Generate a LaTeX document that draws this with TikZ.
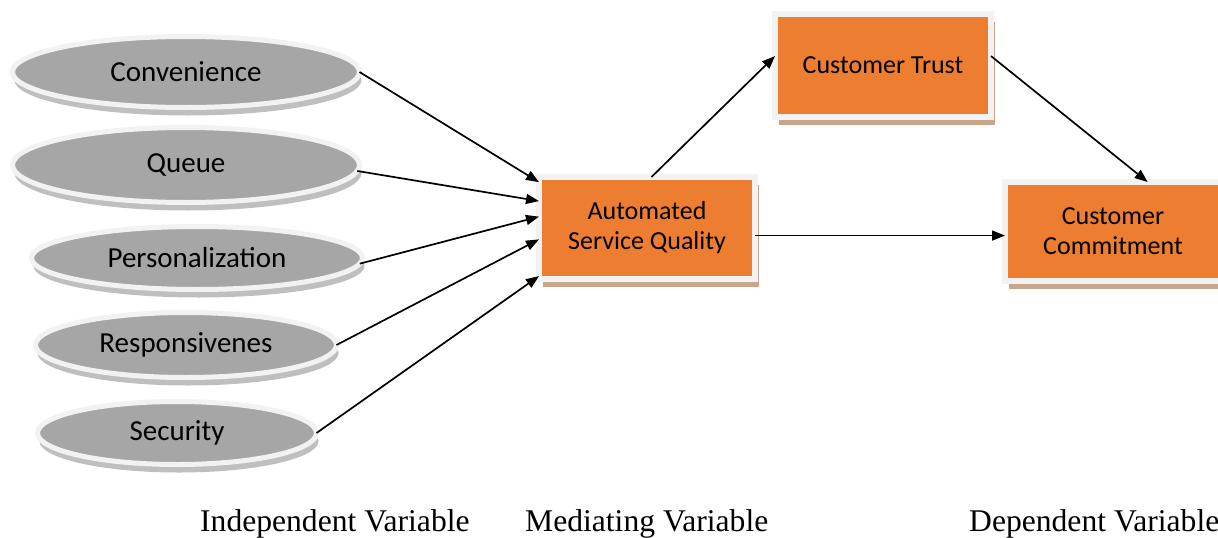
\documentclass[tikz,border=0pt]{standalone}
\usepackage{fontspec}
\setmainfont{Liberation Serif}
\newfontfamily\calfont{Carlito}
\usetikzlibrary{arrows.meta,shapes.geometric,shadows}
\definecolor{ellgray}{HTML}{A6A6A6}
\definecolor{ringc}{HTML}{F2F2F2}
\definecolor{ellshadow}{HTML}{BFBFBF}
\definecolor{boxorange}{HTML}{ED7D31}
\definecolor{boxshadow}{HTML}{C9A58C}
\begin{document}
\begin{tikzpicture}[x=1pt,y=-1pt,
  ell/.style={ellipse, fill=ellgray, draw=ringc, line width=5pt, inner sep=0pt, outer sep=0pt,
    font=\calfont\fontsize{29}{34}\selectfont,
    drop shadow={shadow xshift=2pt, shadow yshift=-8pt, fill=ellshadow, opacity=1}},
  box/.style={rectangle, fill=boxorange, draw=ringc, line width=6pt, inner sep=0pt, outer sep=0pt,
    align=center, font=\calfont\fontsize{26}{30}\selectfont,
    drop shadow={shadow xshift=4pt, shadow yshift=-8pt, fill=boxshadow, opacity=1}},
  arr/.style={-{Triangle[length=13pt,width=10pt]}, line width=1.7pt, black},
  lbl/.style={anchor=base west, font=\fontsize{31.6}{36}\selectfont, inner sep=0pt}]
\useasboundingbox[fill=white] (0,0) rectangle (1218,538);
% independent variables
\node[ell, minimum width=347pt, minimum height=71pt] (conv) at (186,72) {Convenience};
\node[ell, minimum width=347pt, minimum height=75pt] (queue) at (186,165) {Queue};
\node[ell, minimum width=331pt, minimum height=63pt] (pers) at (197,258) {Personalization};
\node[ell, minimum width=301pt, minimum height=65pt] (resp) at (186,345) {Responsivenes};
\node[ell, minimum width=279pt, minimum height=63pt] (sec) at (177,433) {Security};
% boxes
\node[box, minimum width=216pt, minimum height=102pt] (asq) at (647,228) {Automated\\Service Quality};
\node[box, minimum width=216pt, minimum height=103pt] (ct) at (883,65.5) {Customer Trust};
\node[box, minimum width=216pt, minimum height=99pt] (cc) at (1113,231.5) {Customer\\Commitment};
% connectors
\draw[arr] (conv.east) -- (asq.157.5);
\draw[arr] (queue.-2) -- (asq.166.5);
\draw[arr] (pers.-2) -- (asq.174);
\draw[arr] (resp.east) -- (asq.186.3);
\draw[arr] (sec.east) -- (asq.204.8);
\draw[arr] (asq.85) -- (ct.175.5);
\draw[arr] (ct.5) -- (cc.55.5);
\draw[arr] (asq.-4) -- (asq.-4 -| cc.west);
% labels
\node[lbl] (iv) at (200,531) {Independent Variable};
\node[lbl] (mv) at (525,531) {Mediating Variable};
\node[lbl] (dv) at (969,531) {Dependent Variable};
\end{tikzpicture}
\end{document}
